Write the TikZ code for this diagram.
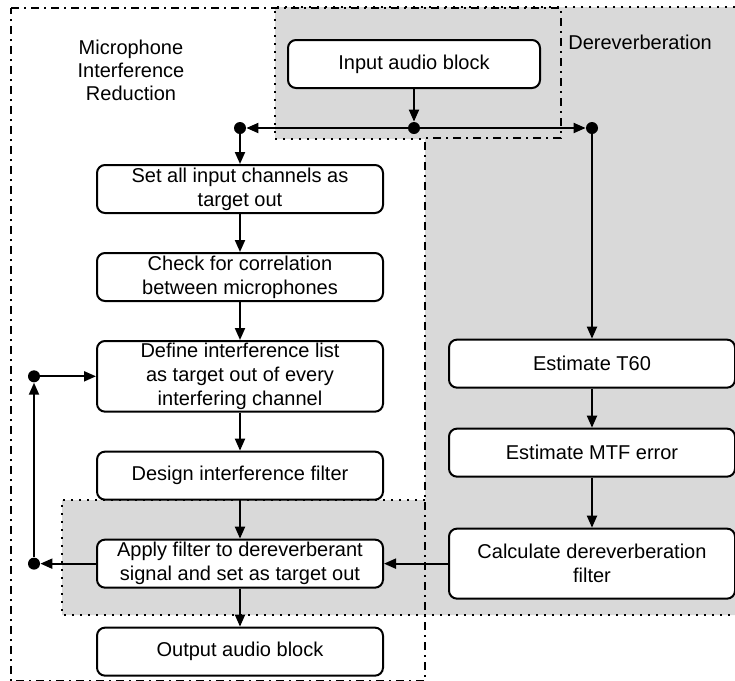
\documentclass[tikz,border=0pt]{standalone}
\usepackage{fontspec}
\setmainfont{Liberation Sans}
\usetikzlibrary{chains}
\usetikzlibrary{positioning}
\usetikzlibrary{arrows.meta}

\begin{document}
\begin{tikzpicture}[
			x=0.5pt, y=-0.5pt,
			start chain=going below,
			node distance=19pt,
			block/.style={
				draw=black,
				line width=1pt,
				fill=white,
				rounded corners=4pt,
				align=center,
				font=\fontsize{10}{12}\selectfont,
				minimum width=143pt,
				minimum height=24pt,
				inner sep=1pt,
			},
			every on chain/.style={block},
			flow/.style={line width=1pt, -{Triangle[length=6pt,width=5pt]}},
			joint/.style={circle, fill=black, inner sep=0pt, minimum size=6pt},
			zone/.style={line width=1pt, dash pattern=on 1pt off 3pt},
			frame/.style={line width=1pt, dash pattern=on 4pt off 2.5pt on 1pt off 2.5pt},
			caption/.style={font=\fontsize{10}{11.5}\selectfont, align=center, inner sep=0pt},
			]
			\useasboundingbox (0,0) rectangle (735,681);
			%% grey regions
			\fill[black!15] (275,7) -- (735,7) -- (735,615) -- (62,615) -- (62,500)
				-- (425,500) -- (425,139) -- (275,139) -- cycle;
			\draw[zone] (425,500) -- (62,500) -- (62,615) -- (735,615);
			\draw[zone] (735,7) -- (275,7) -- (275,139) -- (425,139);
			\draw[frame] (11,8) -- (561,8) -- (561,138) -- (425,138) -- (425,681) -- (11,681) -- cycle;
			\node[caption] (mirlabel) at (131,70) {Microphone\\Interference\\Reduction};
			\node[caption, anchor=west] (derlabel) at (568,42) {Dereverberation};
			%% blocks
			\node[block, minimum width=126pt] (input) at (414,64) {Input audio block};
			\node[on chain] (setall) at (240,189) {Set all input channels as\\target out};
			\node[on chain] (check) {Check for correlation\\between microphones};
			\node[on chain] (define) {Define interference list\\as target out of every\\interfering channel};
			\node[on chain] (design) {Design interference filter};
			\node[on chain] (apply) {Apply filter to dereverberant\\signal and set as target out};
			\node[on chain] (output) {Output audio block};
			\node[block, minimum height=35pt, right=32pt of apply] (calc) {Calculate dereverberation\\filter};
			\node[block, above=25pt of calc] (mtf) {Estimate MTF error};
			\node[block, above=19.5pt of mtf] (t60) {Estimate T60};
			%% joints
			\coordinate (busy) at (0,128);
			\coordinate (loopx) at (34,0);
			\node[joint] (splitm) at (input |- busy) {};
			\node[joint] (splitl) at (setall |- busy) {};
			\node[joint] (splitr) at (t60 |- busy) {};
			\node[joint] (loopt) at (loopx |- define) {};
			\node[joint] (loopb) at (loopx |- apply) {};
			%% connectors
			\draw[flow] (input) -- (splitm);
			\draw[flow] (splitm) -- (splitl);
			\draw[flow] (splitm) -- (splitr);
			\draw[flow] (splitl) -- (setall);
			\draw[flow] (splitr) -- (t60);
			\draw[flow] (setall) -- (check);
			\draw[flow] (check) -- (define);
			\draw[flow] (define) -- (design);
			\draw[flow] (design) -- (apply);
			\draw[flow] (apply) -- (output);
			\draw[flow] (t60) -- (mtf);
			\draw[flow] (mtf) -- (calc);
			\draw[flow] (calc) -- (apply);
			\draw[flow] (apply) -- (loopb);
			\draw[flow] (loopb) -- (loopt);
			\draw[flow] (loopt) -- (define);
		\end{tikzpicture}
\end{document}
